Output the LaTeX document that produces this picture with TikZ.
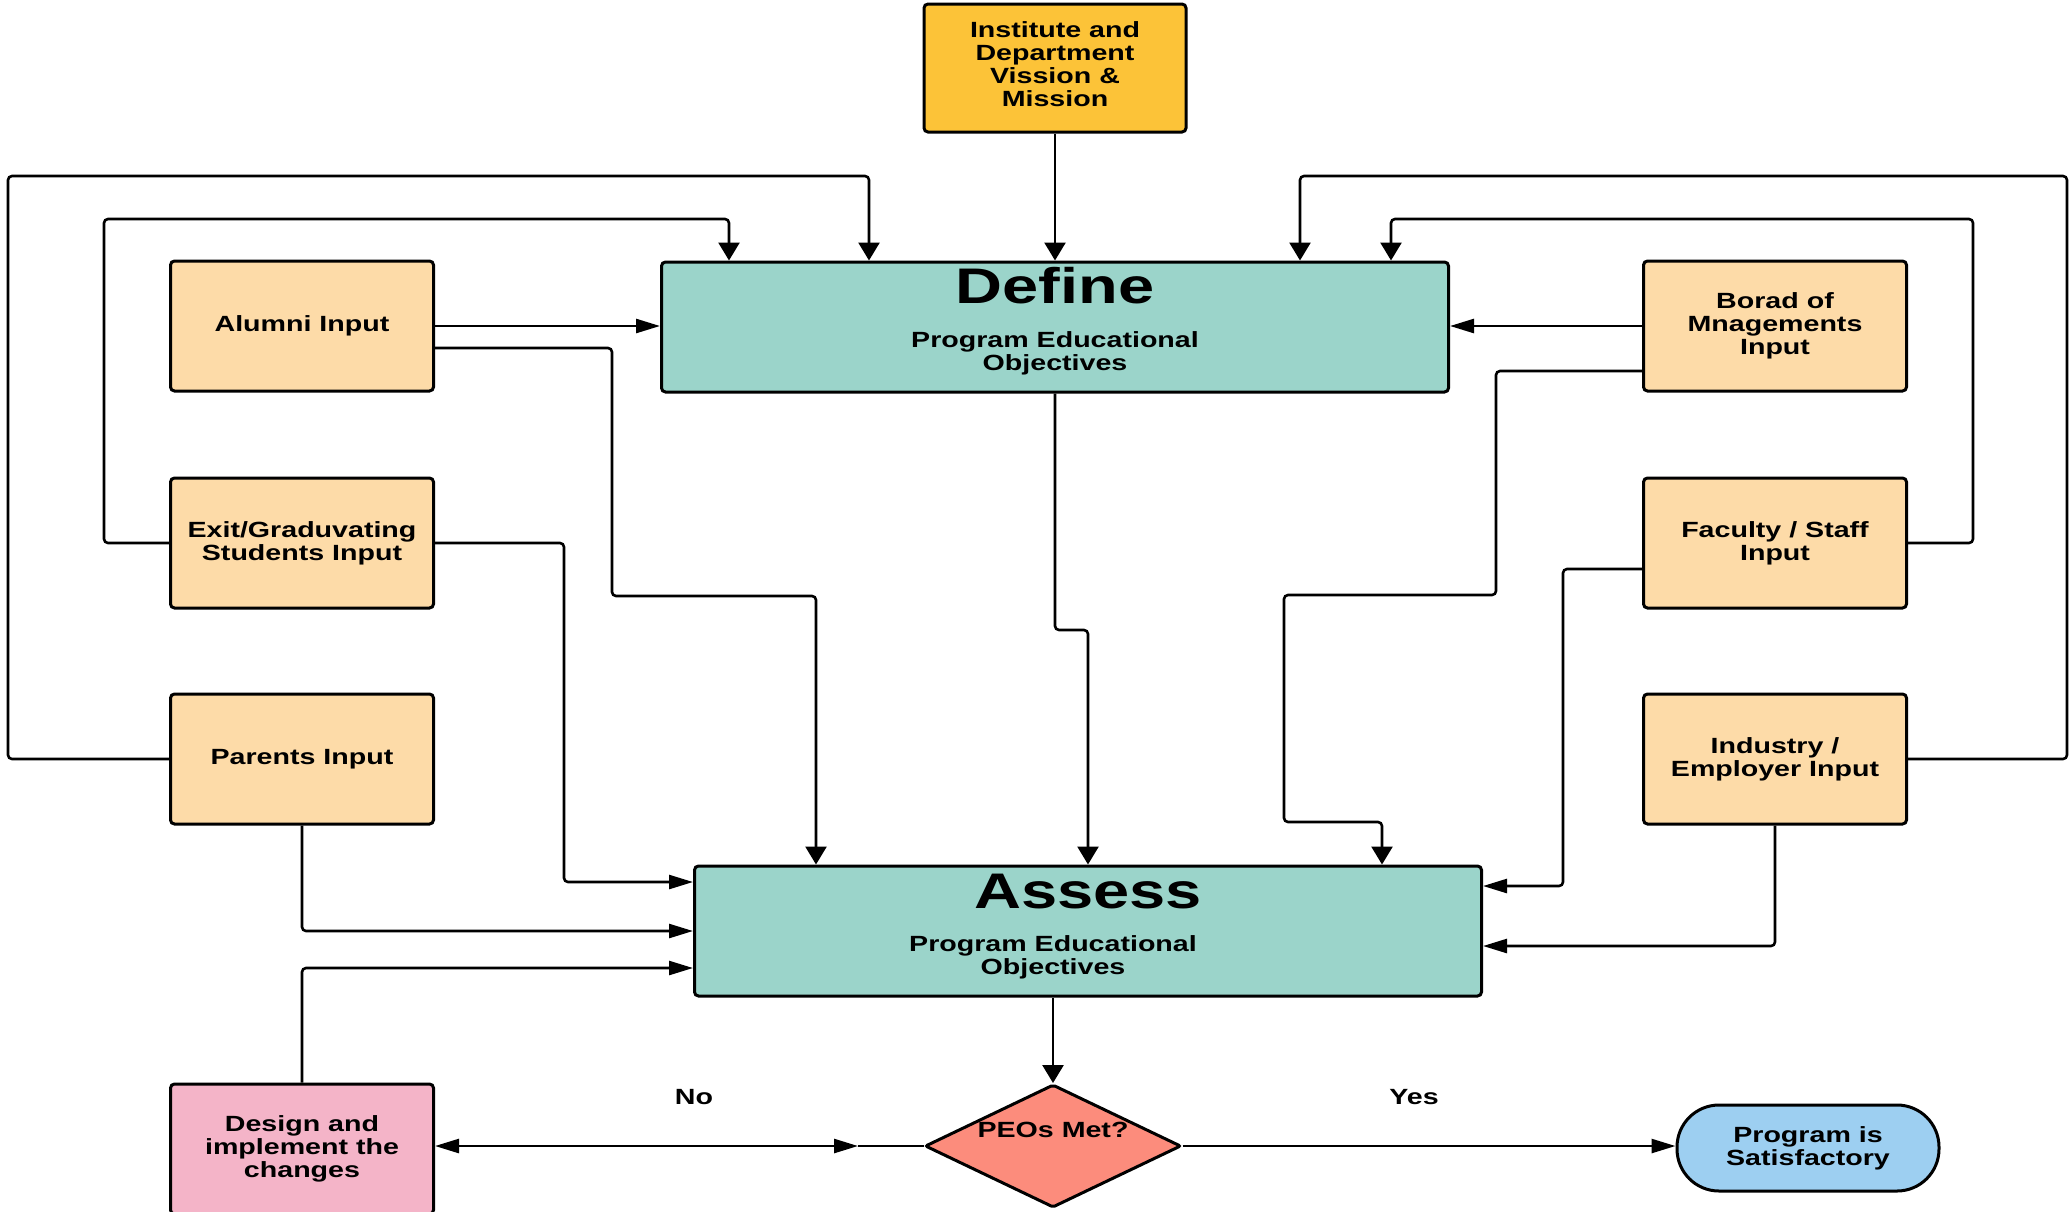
\documentclass[tikz,border=0pt]{standalone}
\usepackage{fontspec}
\setmainfont{Liberation Sans}[FakeStretch=1.3]
\usetikzlibrary{arrows.meta,shapes.geometric,positioning}
\definecolor{visionyellow}{HTML}{FCC338}
\definecolor{peoteal}{HTML}{9BD4CA}
\definecolor{inputpeach}{HTML}{FDDBA8}
\definecolor{designpink}{HTML}{F4B4C8}
\definecolor{peosalmon}{HTML}{FC8C7C}
\definecolor{okblue}{HTML}{9DCFF1}
\tikzset{
htip/.tip={Triangle[length=12pt,width=7pt]},
vtip/.tip={Triangle[length=9pt,width=10.5pt]},
box/.style={draw=black, line width=1.5pt, rounded corners=2pt, inner sep=0pt, align=center,
  font=\bfseries\fontsize{11}{11.6}\selectfont},
inputbox/.style={box, fill=inputpeach, minimum width=131.5pt, minimum height=65pt},
peobox/.style={box, fill=peoteal, minimum width=393.5pt, minimum height=65pt},
words/.style={inner sep=0pt, align=center, font=\bfseries\fontsize{11}{11.6}\selectfont},
bigwords/.style={inner sep=0pt, font=\bfseries\fontsize{25}{30}\selectfont},
link/.style={line width=1.3pt, rounded corners=2pt},
varr/.style={link, -vtip},
harr/.style={link, -htip}
}
\begin{document}
\begin{tikzpicture}[x=0.5pt,y=-0.5pt]
\useasboundingbox (0,0) rectangle (2070,1211);
% boxes
\node[box, fill=visionyellow, minimum width=131pt, minimum height=64pt, text depth=4pt] (vision) at (1055,68) {Institute and\\Department\\Vission \&\\Mission};
\node[peobox] (define) at (1055,327) {};
\node[bigwords] (definetitle) at (1055,286) {Define};
\node[words] (definesub) at (1055,353) {Program Educational\\Objectives};
\node[inputbox] (alumni) at (302,326) {Alumni Input};
\node[inputbox] (exit) at (302,543) {Exit/Graduvating\\Students Input};
\node[inputbox] (parents) at (302,759) {Parents Input};
\node[inputbox] (board) at (1775,326) {Borad of\\Mnagements\\Input};
\node[inputbox] (faculty) at (1775,543) {Faculty / Staff\\Input};
\node[inputbox] (industry) at (1775,759) {Industry /\\Employer Input};
\node[peobox] (assess) at (1088,931) {};
\node[bigwords] (assesstitle) at (1088,892) {Assess};
\node[words] (assesssub) at (1053,957) {Program Educational\\Objectives};
\node[box, fill=designpink, minimum width=131.5pt, minimum height=65pt] (design) at (302,1149) {Design and\\implement the\\changes};
\node[box, shape=diamond, fill=peosalmon, minimum width=128pt, minimum height=61.5pt, rounded corners=1pt] (peos) at (1053,1146) {};
\node[words] (peostext) at (1053,1130) {PEOs Met?};
\node[box, fill=okblue, minimum width=131pt, minimum height=43pt, rounded corners=21pt] (satisfied) at (1808,1148) {Program is\\Satisfactory};
\node[words] (nolabel) at (694,1097) {No};
\node[words] (yeslabel) at (1414,1097) {Yes};
% into define
\draw[varr] (vision) -- (define);
\draw[varr] (parents.west) -- (8,759) -- (8,176) -- (869,176) -- (869,176 |- define.north);
\draw[varr] (exit.west) -- (104,543) -- (104,219) -- (729,219) -- (729,219 |- define.north);
\draw[harr] (alumni.east) -- (alumni.east -| define.west);
\draw[harr] (board.west) -- (board.west -| define.east);
\draw[varr] (faculty.east) -- (1973,543) -- (1973,219) -- (1391,219) -- (1391,219 |- define.north);
\draw[varr] (industry.east) -- (2067,759) -- (2067,176) -- (1300,176) -- (1300,176 |- define.north);
% into assess
\draw[varr] ([yshift=-11pt]alumni.east) -- (612,348) -- (612,596) -- (816,596) -- (816,596 |- assess.north);
\draw[harr] (exit.east) -- (564,543) -- (564,882) -- (564,882 -| assess.west);
\draw[harr] (parents.south) -- (302,931) -- (302,931 -| assess.west);
\draw[harr] (design.north) -- (302,968) -- (302,968 -| assess.west);
\draw[varr] (define.south) -- (1055,630) -- (1088,630) -- (assess.north);
\draw[varr] ([yshift=-22.5pt]board.west) -- (1496,371) -- (1496,595) -- (1284,595) -- (1284,822) -- (1382,822) -- (1382,822 |- assess.north);
\draw[harr] ([yshift=-13pt]faculty.west) -- (1563,569) -- (1563,886) -- (1563,886 -| assess.east);
\draw[harr] (industry.south) -- (1775,946) -- (1775,946 -| assess.east);
% decision
\draw[varr] (assess.south -| peos.north) -- (peos.north);
\draw[harr] (peos.east) -- (peos.east -| satisfied.west);
\coordinate (nohead) at (858,1146);
\draw[link, htip-htip] (nohead -| design.east) -- (nohead);
\draw[link] (nohead) -- (peos.west);
\end{tikzpicture}
\end{document}
